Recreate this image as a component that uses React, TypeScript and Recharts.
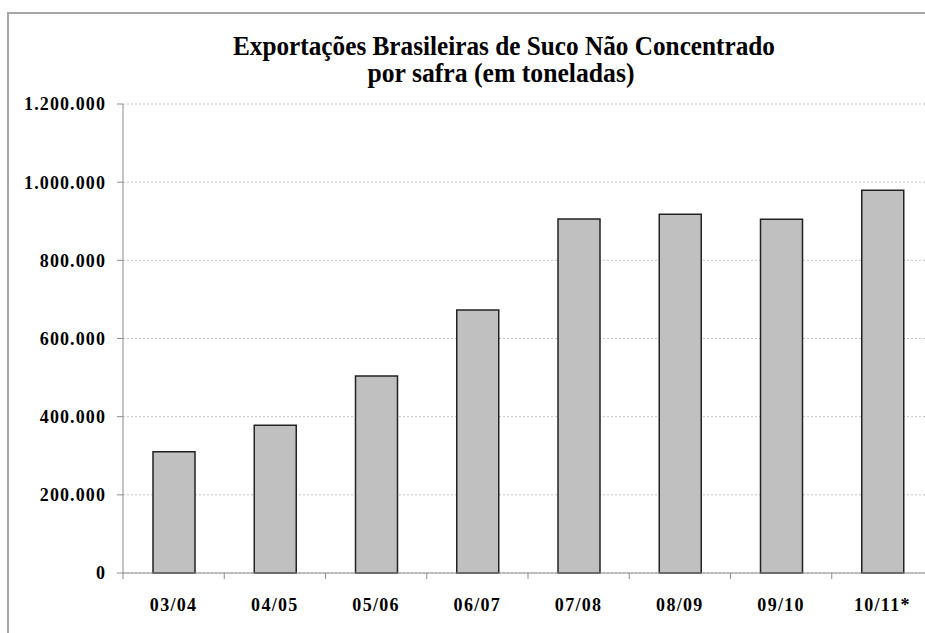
import React from 'react';
import { BarChart, Bar, XAxis, YAxis, CartesianGrid } from 'recharts';

const categories = ['03/04', '04/05', '05/06', '06/07', '07/08', '08/09', '09/10', '10/11*'];
const exportTons = [310000, 378000, 504000, 673000, 906000, 918000, 905000, 979000];
const yTicks = [0, 200000, 400000, 600000, 800000, 1000000, 1200000];
const titleLines = ['Exportações Brasileiras  de Suco Não Concentrado', 'por safra (em toneladas)'];

const data = categories.map((c, i) => ({ cat: c, value: exportTons[i] }));

const SERIF = '"Liberation Serif", "Times New Roman", serif';
const PLOT_BOTTOM = 573;
const AXIS_COLOR = '#8c8c8c';

const fmt = (v: number) => String(v).replace(/\B(?=(\d{3})+(?!\d))/g, '.');

const CatTick = (props: any) => {
  const { x, payload } = props;
  const half = payload && payload.offset ? payload.offset : 50.6;
  return (
    <g>
      <line x1={x - half} y1={PLOT_BOTTOM} x2={x - half} y2={PLOT_BOTTOM + 6} stroke={AXIS_COLOR} strokeWidth={1} />
      <text
        x={x}
        y={610.5}
        textAnchor="middle"
        fontFamily={SERIF}
        fontSize={18}
        fontWeight="bold"
        fill="#000"
        style={{ letterSpacing: '1.3px' }}
      >
        {payload.value}
      </text>
    </g>
  );
};

export default function App() {
  return (
    <div
      style={{
        position: 'fixed',
        left: 0,
        top: 0,
        width: 925,
        height: 633,
        overflow: 'hidden',
        background: '#fff',
      }}
    >
      <div style={{ position: 'absolute', left: 0, top: 0 }}>
        <BarChart
          width={940}
          height={633}
          data={data}
          margin={{ top: 104, right: 7, bottom: 10, left: 0 }}
        >
          <CartesianGrid vertical={false} stroke="#c4c4c4" strokeDasharray="2 2" />
          <YAxis
            domain={[0, 1200000]}
            ticks={yTicks}
            interval={0}
            width={123}
            tickFormatter={fmt}
            axisLine={{ stroke: AXIS_COLOR }}
            tickLine={{ stroke: AXIS_COLOR }}
            tickSize={6}
            tickMargin={11}
            tick={{
              fontFamily: SERIF,
              fontSize: 18,
              fontWeight: 'bold',
              fill: '#000',
              style: { letterSpacing: '1.1px' },
            } as any}
          />
          <XAxis
            dataKey="cat"
            height={50}
            interval={0}
            axisLine={{ stroke: AXIS_COLOR }}
            tickLine={false}
            tick={<CatTick />}
          />
          <Bar
            dataKey="value"
            fill="#c0c0c0"
            stroke="#222"
            strokeWidth={1.5}
            barSize={42}
            isAnimationActive={false}
          />
        </BarChart>
      </div>
      <svg
        width={925}
        height={633}
        style={{ position: 'absolute', left: 0, top: 0, pointerEvents: 'none' }}
      >
        <line x1={8} y1={640} x2={8} y2={12} stroke="#a6a6a6" strokeWidth={2} />
        <line x1={7} y1={13} x2={925} y2={13} stroke="#a6a6a6" strokeWidth={2} />
        <text
          x={504}
          y={55}
          textAnchor="middle"
          fontFamily={SERIF}
          fontSize={27}
          fontWeight="bold"
          fill="#000"
          textLength={542}
          lengthAdjust="spacingAndGlyphs"
        >
          {titleLines[0]}
        </text>
        <text
          x={501}
          y={82}
          textAnchor="middle"
          fontFamily={SERIF}
          fontSize={27}
          fontWeight="bold"
          fill="#000"
          textLength={267}
          lengthAdjust="spacingAndGlyphs"
        >
          {titleLines[1]}
        </text>
      </svg>
    </div>
  );
}
